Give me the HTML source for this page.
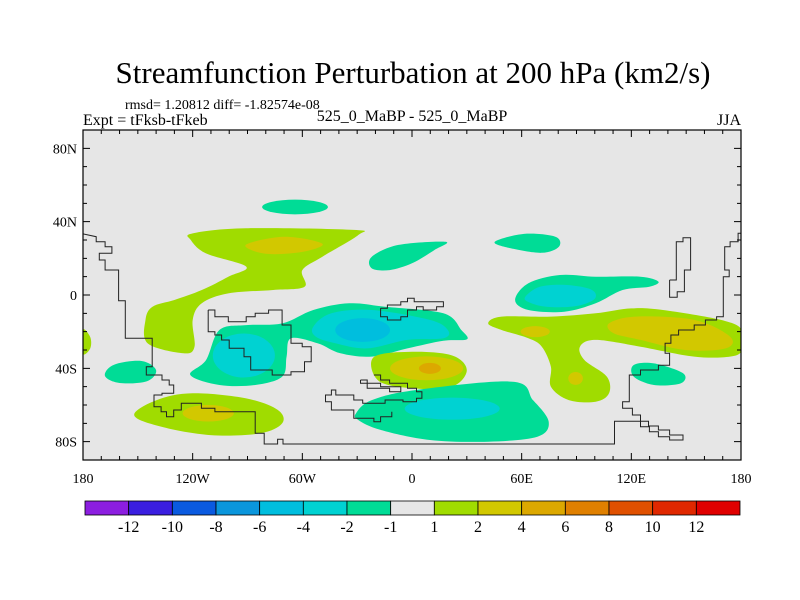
<!DOCTYPE html>
<html><head><meta charset="utf-8"><style>
html,body{margin:0;padding:0;background:#fff;}
svg{display:block;font-family:"Liberation Serif",serif;}
</style></head><body>
<svg id="chart" width="800" height="600" viewBox="0 0 800 600">
<text x="413" y="83" text-anchor="middle" font-size="31">Streamfunction Perturbation at 200 hPa (km2/s)</text>
<text x="125" y="109" font-size="14">rmsd= 1.20812 diff= -1.82574e-08</text>
<text x="83" y="125" font-size="16">Expt = tFksb-tFkeb</text>
<text x="412" y="121" text-anchor="middle" font-size="16">525_0_MaBP - 525_0_MaBP</text>
<text x="741" y="125" text-anchor="end" font-size="16">JJA</text>
<g id="plot"></g>
<g id="cbar"></g>
</svg>
<script>
// ---- data ----
const levelBounds = [-12,-10,-8,-6,-4,-2,-1,1,2,4,6,8,10,12];
const levelColors = ["#8c1ee0","#3a1ee0","#0a5ae0","#0a96dc","#00bede","#00d2d2","#00dc96","#e6e6e6","#a0dc00","#d2c800","#dca800","#e08000","#e05000","#e02800","#e00000"];
const contourLevels = [1,2,-1,-1,-1,-2,-1,1,1,1,2,-1,-2,1,-1,-1];
const contourPolys = [
 [[-120,33.6],[-90.7,36.4],[-31.9,35.5],[-29.4,32.7],[-49,20.9],[-60,13.6],[-58.8,4.5],[-76,2.7],[-100.5,0.9],[-115,-4.5],[-120,-13.6],[-119,-28.2],[-125,-31.8],[-144.6,-26.4],[-145.8,-13.6],[-142,-6.4],[-130,-2.7],[-115,2.7],[-100.5,10],[-90.7,15.5],[-112.7,22.7],[-121,30]],
 [[-91,27.3],[-70,31.8],[-49,28],[-60,23.5],[-80,22.5]],
 [[-22,20.9],[-7.4,27.3],[18.4,29],[12.2,24.5],[0,17.3],[-12.2,13.6],[-22,14.5]],
 [[45.3,29],[61.3,33.3],[78.4,31.8],[80.4,26.4],[71,23],[54,25.5]],
 [[56.4,-2.7],[63.7,6.4],[80.9,10.9],[100.5,10],[125,10],[134.8,7.3],[129.9,4.5],[115.2,2.7],[100.5,-4.5],[83.3,-9.1],[63.7,-8.2]],
 [[62,-1],[70,4.5],[84,5.5],[98,3],[100,-2],[90,-6],[74,-6.5],[64,-4]],
 [[-71,-15.5],[-54,-8.2],[-34.3,-4.5],[-14.7,-6.4],[17.2,-10],[27,-19.1],[30,-24.2],[17.2,-24.9],[-2.5,-29.1],[-22,-33.6],[-39.2,-31.8],[-51.5,-26.4],[-66.2,-23.6],[-68.6,-33.6],[-71,-44.5],[-85.8,-49.1],[-105.4,-49.1],[-121.3,-43.6],[-112.7,-35.5],[-105.4,-19.1],[-90.7,-16.4]],
 [[-180,-19],[-176,-23],[-176,-29],[-180,-32]],
 [[-152,-65.5],[-139.7,-57.3],[-120,-53.6],[-90.7,-56.4],[-73.5,-62.7],[-71,-70],[-83.3,-75.5],[-110.3,-76.4],[-137.3,-71.8]],
 [[41.7,-15.5],[49,-11.8],[76,-11.8],[100.5,-10],[120,-7.3],[137.3,-8.2],[169,-13.6],[180.6,-19.1],[180.6,-30],[174,-33.6],[154.4,-33.6],[125,-28.2],[100.5,-24.5],[91.9,-28.2],[94.4,-35.5],[106.6,-44.5],[107.8,-53.6],[100.5,-58.2],[85.8,-57.3],[76,-50],[76,-39.1],[71,-28.2],[63.7,-23.6],[49,-19.1]],
 [[107.8,-15.5],[122.5,-11.8],[154.4,-13.6],[174,-22.7],[171.6,-29.1],[149.5,-30],[125,-24.5],[110.3,-20.9]],
 [[121.3,-38.2],[132.4,-37.3],[148.3,-42.7],[147,-48.2],[132.4,-49.1],[121.3,-44.5]],
 [[-54,-17.3],[-44.1,-10],[-22,-8.2],[9.8,-13.6],[19.6,-19.1],[17.2,-23.6],[-2.5,-24.5],[-24.5,-29.1],[-41.7,-26.4],[-52.7,-22.7]],
 [[-21,-34],[0,-31],[22,-33],[30,-41],[22,-50],[2,-51],[-18,-47]],
 [[-30.6,-64.5],[-22,-57.3],[2.5,-51.8],[55.1,-47.3],[66.2,-57.3],[74.8,-69.1],[68.6,-77.3],[41.7,-80],[9.8,-79.1],[-17.2,-73.6],[-29.4,-68.2]],
 [[-163,-38],[-148,-36],[-140,-41],[-145,-47],[-160,-48],[-168,-44]]
];
// inner features: [lon, lat, rxDeg, ryDeg, level]
const blobLon = [-64,-27,-92,-111.5,8,9.8,22,67.4,89.5];
const blobLat = [48,-19.1,-33,-64.5,-40,-40,-62,-20,-45.5];
const blobRx  = [18,15,17,14,20,6,26,8,4];
const blobRy  = [4,6.5,12,4.5,6.5,3,6,3,3.5];
const blobLevel=[-1,-4,-2,2,2,4,-2,2,2];
const coastRaw = [
 [[50,430],[85,440],[85,455],[105,455],[105,470],[120,470],[120,490],[92,490],[92,510],[105,510],[105,540],[135,540],[135,632],[150,632],[150,745],[210,745],[210,830],[197,830],[197,855],[232,855],[232,870],[248,870],[248,885],[258,885],[258,910],[232,910],[232,915],[214,915],[214,950],[230,950],[230,965],[242,965],[242,980],[258,980],[258,960],[275,960],[275,940],[320,940],[320,955],[350,955],[350,965],[440,965],[440,1030],[460,1030],[460,1062],[490,1062],[490,1048],[502,1048],[502,1062],[1242,1062],[1242,994],[1318,994],[1318,1008],[1340,1008],[1340,1020],[1365,1020],[1365,1035],[1395,1035],[1395,1050],[1365,1050],[1365,1040],[1340,1040],[1340,1025],[1320,1025],[1320,1010],[1300,1010],[1300,975],[1282,975],[1282,955],[1260,955],[1260,935],[1275,935],[1275,855],[1300,855],[1300,840],[1340,840],[1340,826],[1365,826],[1365,790],[1355,790],[1355,760],[1368,760],[1368,735],[1385,735],[1385,720],[1420,720],[1420,705],[1445,705],[1445,690],[1470,690],[1470,680],[1485,680],[1485,560],[1498,560],[1498,540],[1488,540],[1488,470],[1500,470],[1500,455],[1518,455],[1518,430],[1527,430]],
 [[335,660],[350,660],[350,680],[380,680],[380,695],[420,695],[420,680],[440,680],[440,670],[470,670],[470,660],[500,660],[500,705],[520,705],[520,760],[545,760],[545,770],[565,770],[565,815],[550,815],[550,845],[520,845],[520,855],[478,855],[478,840],[430,840],[430,800],[415,800],[415,775],[382,775],[382,750],[365,750],[365,735],[350,735],[350,725],[335,725],[335,660]],
 [[720,655],[735,655],[735,645],[765,645],[765,635],[780,635],[780,625],[795,625],[795,635],[860,635],[860,650],[845,650],[845,660],[815,660],[815,650],[800,650],[800,660],[780,660],[780,680],[765,680],[765,690],[735,690],[735,680],[720,680],[720,655]],
 [[705,855],[720,855],[720,870],[740,870],[740,880],[780,880],[780,895],[800,895],[800,905],[812,905],[812,925],[800,925],[800,935],[770,935],[770,930],[730,930],[730,940],[680,940],[680,930],[660,930],[660,915],[620,915],[620,900],[610,900],[610,915],[597,915],[597,935],[610,935],[610,960],[660,960],[660,985],[705,985],[705,995],[720,995],[720,980],[745,980],[745,965]],
 [[675,870],[690,870],[690,880],[720,880],[720,890],[765,890],[765,905],[740,905],[740,895],[690,895],[690,880],[675,880],[675,870]],
 [[1365,570],[1380,570],[1380,455],[1395,455],[1395,443],[1412,443],[1412,540],[1398,540],[1398,605],[1382,605],[1382,622],[1365,622],[1365,570]]
];
// ---- scales ----
const X0=83, X1=741, Y0=130, Y1=460;
function xLon(lon){return X0+(lon+180)/360*(X1-X0);}
function yLat(lat){return Y0+(90-lat)/180*(Y1-Y0);}
function rawLon(zx){return (zx-790)/4.08;}
function rawLat(zy){return (615-zy)/5.5;}
function colorFor(level){
  let i=0; while(i<levelBounds.length && level>=levelBounds[i]) i++;
  if(level<0){i=0; while(i<levelBounds.length && level>levelBounds[i]) i++;}
  return levelColors[i];
}
function smoothPath(pts){
  const n=pts.length; let d="M"+pts[0][0].toFixed(1)+","+pts[0][1].toFixed(1);
  for(let i=0;i<n;i++){
    const p0=pts[(i-1+n)%n],p1=pts[i],p2=pts[(i+1)%n],p3=pts[(i+2)%n];
    const c1=[p1[0]+(p2[0]-p0[0])/6,p1[1]+(p2[1]-p0[1])/6];
    const c2=[p2[0]-(p3[0]-p1[0])/6,p2[1]-(p3[1]-p1[1])/6];
    d+="C"+c1[0].toFixed(1)+","+c1[1].toFixed(1)+" "+c2[0].toFixed(1)+","+c2[1].toFixed(1)+" "+p2[0].toFixed(1)+","+p2[1].toFixed(1);
  }
  return d+"Z";
}
const NS="http://www.w3.org/2000/svg";
function mk(tag,attrs,parent){const e=document.createElementNS(NS,tag);for(const k in attrs)e.setAttribute(k,attrs[k]);parent.appendChild(e);return e;}
const plot=document.getElementById('plot');
const defs=mk('defs',{},plot);
const cp=mk('clipPath',{id:'clip'},defs);
mk('rect',{x:X0,y:Y0,width:X1-X0,height:Y1-Y0},cp);
const bg=mk('rect',{x:X0,y:Y0,width:X1-X0,height:Y1-Y0,fill:'#e6e6e6'},plot);


const g=mk('g',{'clip-path':'url(#clip)'},plot);
const order=[0,2,3,4,6,7,8,9,11,13,14,15,1,5,10,12];
order.forEach(i=>{
  const pts=contourPolys[i].map(p=>[xLon(p[0]),yLat(p[1])]);
  const e=mk('path',{d:smoothPath(pts),fill:colorFor(contourLevels[i])},g);
  
  
});
for(let i=0;i<blobLon.length;i++){
  const e=mk('ellipse',{cx:xLon(blobLon[i]),cy:yLat(blobLat[i]),rx:blobRx[i]*(X1-X0)/360,ry:blobRy[i]*(Y1-Y0)/180,fill:colorFor(blobLevel[i])},g);
  
  
}
coastRaw.forEach(line=>{
  const d=line.map((p,j)=>(j?"L":"M")+xLon(rawLon(p[0])).toFixed(1)+","+yLat(rawLat(p[1])).toFixed(1)).join("");
  const e=mk('path',{d:d,fill:'none',stroke:'#222','stroke-width':1},g);
  
  
});
const frame=mk('rect',{x:X0,y:Y0,width:X1-X0,height:Y1-Y0,fill:'none',stroke:'#000','stroke-width':1.2},plot);


const lonLabels=["180","120W","60W","0","60E","120E","180"];
const latLabels=["80S","40S","0","40N","80N"];
let tk="";
for(let lon=-180;lon<=180;lon+=10){const x=xLon(lon);const L=(lon%60===0)?7:4;tk+=`M${x},${Y1}v${-L}M${x},${Y0}v${L}`;}
for(let lat=-90;lat<=90;lat+=10){const y=yLat(lat);const L=(lat%40===0&&Math.abs(lat)<90)?7:4;tk+=`M${X0},${y}h${L}M${X1},${y}h${-L}`;}
const ticks=mk('path',{d:tk,stroke:'#000','stroke-width':1,fill:'none'},plot);


lonLabels.forEach((t,i)=>{
  const e=mk('text',{x:xLon(-180+60*i),y:483,'text-anchor':'middle','font-size':14},plot);e.textContent=t;
  
  
});
latLabels.forEach((t,i)=>{
  const e=mk('text',{x:77,y:yLat(-80+40*i)+5,'text-anchor':'end','font-size':14},plot);e.textContent=t;
  
  
});
const cb=document.getElementById('cbar');
const CBX0=85,CBX1=740,CBY=501,CBH=14,bw=(CBX1-CBX0)/levelColors.length;
levelColors.forEach((c,i)=>{
  const e=mk('rect',{x:CBX0+i*bw,y:CBY,width:bw,height:CBH,fill:c,stroke:'#000','stroke-width':0.8},cb);
  
  
});
levelBounds.forEach((v,i)=>{
  const e=mk('text',{x:CBX0+(i+1)*bw,y:532,'text-anchor':'middle','font-size':16},cb);e.textContent=String(v);
  
  
});
</script>
</body></html>
